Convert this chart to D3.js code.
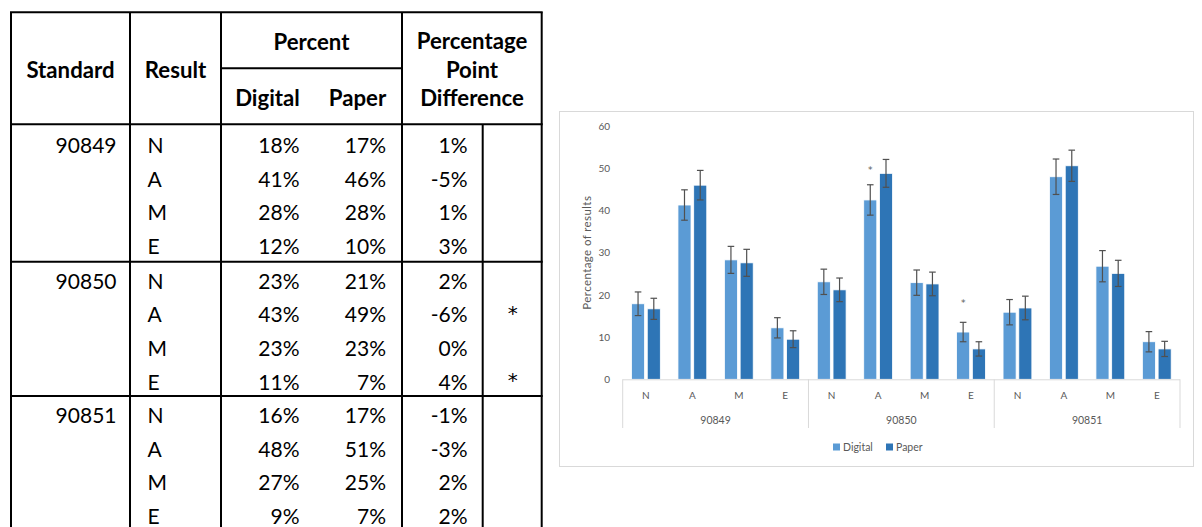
<!DOCTYPE html>
<html>
<head>
<meta charset="utf-8">
<script src="https://cdn.jsdelivr.net/npm/d3@7"></script>
<style>
  html, body { margin: 0; padding: 0; background: #fff; }
  svg { display: block; }
</style>
</head>
<body>
<svg id="fig" width="1202" height="527"></svg>
<script>
// ---------- data ----------
const standards = ["90849", "90850", "90851"];
const results = ["N", "A", "M", "E"];
const series = ["Digital", "Paper"];

// table: rounded percent of results by mode, and the point difference
const digitalPct = [18, 41, 28, 12, 23, 43, 23, 11, 16, 48, 27, 9];
const paperPct   = [17, 46, 28, 10, 21, 49, 23, 7, 17, 51, 25, 7];
const diffPct    = [1, -5, 1, 3, 2, -6, 0, 4, -1, -3, 2, 2];
const significant = [false, false, false, false, false, true, false, true, false, false, false, false];

// chart: percentage of results with confidence half-widths
const digitalValues = [17.9, 41.3, 28.3, 12.2, 23.1, 42.5, 22.9, 11.2, 15.9, 48.0, 26.8, 8.9];
const paperValues   = [16.7, 46.0, 27.6, 9.5, 21.2, 48.8, 22.6, 7.2, 16.9, 50.6, 25.1, 7.2];
const digitalErr    = [2.8, 3.6, 3.2, 2.4, 3.0, 3.6, 3.0, 2.3, 3.0, 4.2, 3.7, 2.4];
const paperErr      = [2.5, 3.5, 3.2, 2.0, 2.8, 3.3, 2.8, 1.7, 2.8, 3.7, 3.1, 1.8];
// level (percent) where the significance asterisk sits
const asteriskLevel = [null, null, null, null, null, 50.1, null, 18.6, null, null, null, null];
const yTicks = [0, 10, 20, 30, 40, 50, 60];

// ---------- shared ----------
const svg = d3.select("#fig");
const rows = standards.flatMap((s, i) => results.map((r, j) => ({
  std: s, res: r, first: j === 0, i: i * 4 + j, key: s + "-" + r
})));
const pct = v => v + "%";

// ---------- table ----------
const T = svg.append("g").attr("class", "table");
const tFont = "Lato, 'Liberation Sans', sans-serif";
const colX = { left: 11, std: 130, res: 221, pct: 402, star: 482.7, right: 541.7 };
const headTop = 12.3, pctRule = 68.3, headBottom = 124.3;
const groupTops = [126, 261.7, 396];
const rowStep = 33.6;
const rowY = d => groupTops[Math.floor(d.i / 4)] + 19.5 + (d.i % 4) * rowStep;

const rule = (x1, y1, x2, y2) => T.append("line")
  .attr("x1", x1).attr("y1", y1).attr("x2", x2).attr("y2", y2)
  .attr("stroke", "#000").attr("stroke-width", 2);

rule(colX.left - 1, headTop, colX.right + 1, headTop);
[colX.left, colX.std, colX.res, colX.pct, colX.right].forEach(x => rule(x, headTop, x, 527));
rule(colX.star, headBottom, colX.star, 527);
rule(colX.res, pctRule, colX.pct, pctRule);
rule(colX.left - 1, headBottom, colX.right + 1, headBottom);
groupTops.slice(1).forEach(y => rule(colX.left - 1, y, colX.right + 1, y));

const headText = (txt, x, cy) => T.append("text")
  .attr("x", x).attr("y", cy + 7.5)
  .attr("text-anchor", "middle")
  .attr("font-family", tFont).attr("font-weight", 700).attr("font-size", 22.2)
  .attr("fill", "#000").text(txt);

headText("Standard", 70.5, 70);
headText("Result", 175.5, 70);
headText("Percent", 311.5, 42);
headText("Digital", 267.5, 98);
headText("Paper", 357.5, 98);
headText("Percentage", 472, 41);
headText("Point", 472, 70);
headText("Difference", 472, 98);

const body = T.selectAll("g.row").data(rows).join("g").attr("class", "row")
  .attr("font-family", tFont).attr("font-size", 21).attr("fill", "#000");

body.filter(d => d.first).append("text")
  .attr("x", 116.5).attr("y", d => rowY(d) + 7.5).attr("text-anchor", "end").text(d => d.std);
body.append("text")
  .attr("x", 147.5).attr("y", d => rowY(d) + 7.5).text(d => d.res);
body.append("text")
  .attr("x", 299.5).attr("y", d => rowY(d) + 7.5).attr("text-anchor", "end").text(d => pct(digitalPct[d.i]));
body.append("text")
  .attr("x", 386).attr("y", d => rowY(d) + 7.5).attr("text-anchor", "end").text(d => pct(paperPct[d.i]));
body.append("text")
  .attr("x", 467.5).attr("y", d => rowY(d) + 7.5).attr("text-anchor", "end").text(d => pct(diffPct[d.i]));
body.filter(d => significant[d.i]).append("text")
  .attr("x", 512.7).attr("y", d => rowY(d) + 5)
  .attr("text-anchor", "middle")
  .attr("font-family", "'DejaVu Sans', sans-serif").attr("font-size", 20)
  .text("*");

// ---------- chart ----------
const C = svg.append("g").attr("class", "chart");
const cFont = "Lato, 'Liberation Sans', sans-serif";
const grey = "#595959";

C.append("rect")
  .attr("x", 559.5).attr("y", 111.5).attr("width", 634).attr("height", 355)
  .attr("fill", "#fff").attr("stroke", "#d9d9d9").attr("stroke-width", 1);

const x = d3.scaleBand().domain(rows.map(d => d.key)).range([622.7, 1180]);
const xs = d3.scaleBand().domain(series).range([0, x.bandwidth()])
  .paddingInner(0.17).paddingOuter(0.56);
const y = d3.scaleLinear().domain([0, 60]).range([379.3, 126.1]);

// value axis: labels only
const yAxis = C.append("g").attr("transform", "translate(610,0)")
  .call(d3.axisLeft(y).tickValues(yTicks).tickSize(0).tickPadding(0));
yAxis.select(".domain").remove();
yAxis.selectAll("text").attr("font-family", cFont).attr("font-size", 10).attr("fill", grey);

C.append("text")
  .attr("transform", `translate(${586.5},${y(30)}) rotate(-90)`)
  .attr("text-anchor", "middle").attr("dy", "0.35em")
  .attr("font-family", cFont).attr("font-size", 11.5).attr("letter-spacing", 0.4)
  .attr("fill", grey)
  .text("Percentage of results");

// bars
const bars = series.map((s, k) => ({
  name: s,
  values: k === 0 ? digitalValues : paperValues,
  errs: k === 0 ? digitalErr : paperErr,
  color: k === 0 ? "#5b9bd5" : "#2e75b6"
}));

const barG = C.selectAll("g.series").data(bars).join("g").attr("class", "series");
barG.selectAll("rect").data(s => rows.map(d => ({ s, d, v: s.values[d.i], e: s.errs[d.i] })))
  .join("rect")
  .attr("x", p => x(p.d.key) + xs(p.s.name))
  .attr("width", xs.bandwidth())
  .attr("y", p => y(p.v))
  .attr("height", p => y(0) - y(p.v))
  .attr("fill", p => p.s.color)
  .attr("stroke", "#fff").attr("stroke-width", 0.8);

// baseline and category-group dividers
C.append("line")
  .attr("x1", x.range()[0]).attr("x2", x.range()[1])
  .attr("y1", y(0) + 0.5).attr("y2", y(0) + 0.5)
  .attr("stroke", "#d9d9d9").attr("stroke-width", 1);
const groupEdges = standards.map((s, i) => x(s + "-N")).concat([x.range()[1]]);
C.selectAll("line.gdiv").data(groupEdges).join("line").attr("class", "gdiv")
  .attr("x1", d => d).attr("x2", d => d)
  .attr("y1", y(0)).attr("y2", 428)
  .attr("stroke", "#d9d9d9").attr("stroke-width", 1);

// error bars
const errG = C.selectAll("g.err").data(bars).join("g").attr("class", "err")
  .attr("stroke", "#505050").attr("stroke-width", 1.2);
errG.each(function (s) {
  const g = d3.select(this);
  rows.forEach(d => {
    const cx = x(d.key) + xs(s.name) + xs.bandwidth() / 2;
    const v = s.values[d.i], e = s.errs[d.i];
    g.append("line").attr("x1", cx).attr("x2", cx).attr("y1", y(v + e)).attr("y2", y(v - e));
    [v + e, v - e].forEach(t => g.append("line")
      .attr("x1", cx - 3.3).attr("x2", cx + 3.3).attr("y1", y(t)).attr("y2", y(t)));
  });
});

// significance asterisks
C.selectAll("text.sig").data(rows.filter(d => asteriskLevel[d.i] != null)).join("text")
  .attr("class", "sig")
  .attr("x", d => x(d.key) + xs("Digital") + xs.bandwidth() / 2)
  .attr("y", d => y(asteriskLevel[d.i]) + 5)
  .attr("text-anchor", "middle")
  .attr("font-family", "'DejaVu Sans', sans-serif").attr("font-size", 9).attr("fill", grey)
  .text("*");

// category labels
C.selectAll("text.cat").data(rows).join("text").attr("class", "cat")
  .attr("x", d => x(d.key) + x.bandwidth() / 2)
  .attr("y", 395).attr("dy", "0.35em")
  .attr("text-anchor", "middle")
  .attr("font-family", cFont).attr("font-size", 10).attr("fill", grey)
  .text(d => d.res);

// standard labels
C.selectAll("text.grp").data(standards).join("text").attr("class", "grp")
  .attr("x", (s, i) => (groupEdges[i] + groupEdges[i + 1]) / 2)
  .attr("y", 420).attr("dy", "0.35em")
  .attr("text-anchor", "middle")
  .attr("font-family", cFont).attr("font-size", 10.5).attr("fill", grey)
  .text(s => s);

// legend
const legendX = [833, 886];
const lg = C.selectAll("g.legend").data(bars).join("g").attr("class", "legend")
  .attr("transform", (s, k) => `translate(${legendX[k]},447)`);
lg.append("rect").attr("x", 0).attr("y", -3.5).attr("width", 7).attr("height", 7)
  .attr("fill", s => s.color);
lg.append("text").attr("x", 10).attr("dy", "0.35em")
  .attr("font-family", cFont).attr("font-size", 10.5).attr("fill", grey)
  .text(s => s.name);
</script>
</body>
</html>
